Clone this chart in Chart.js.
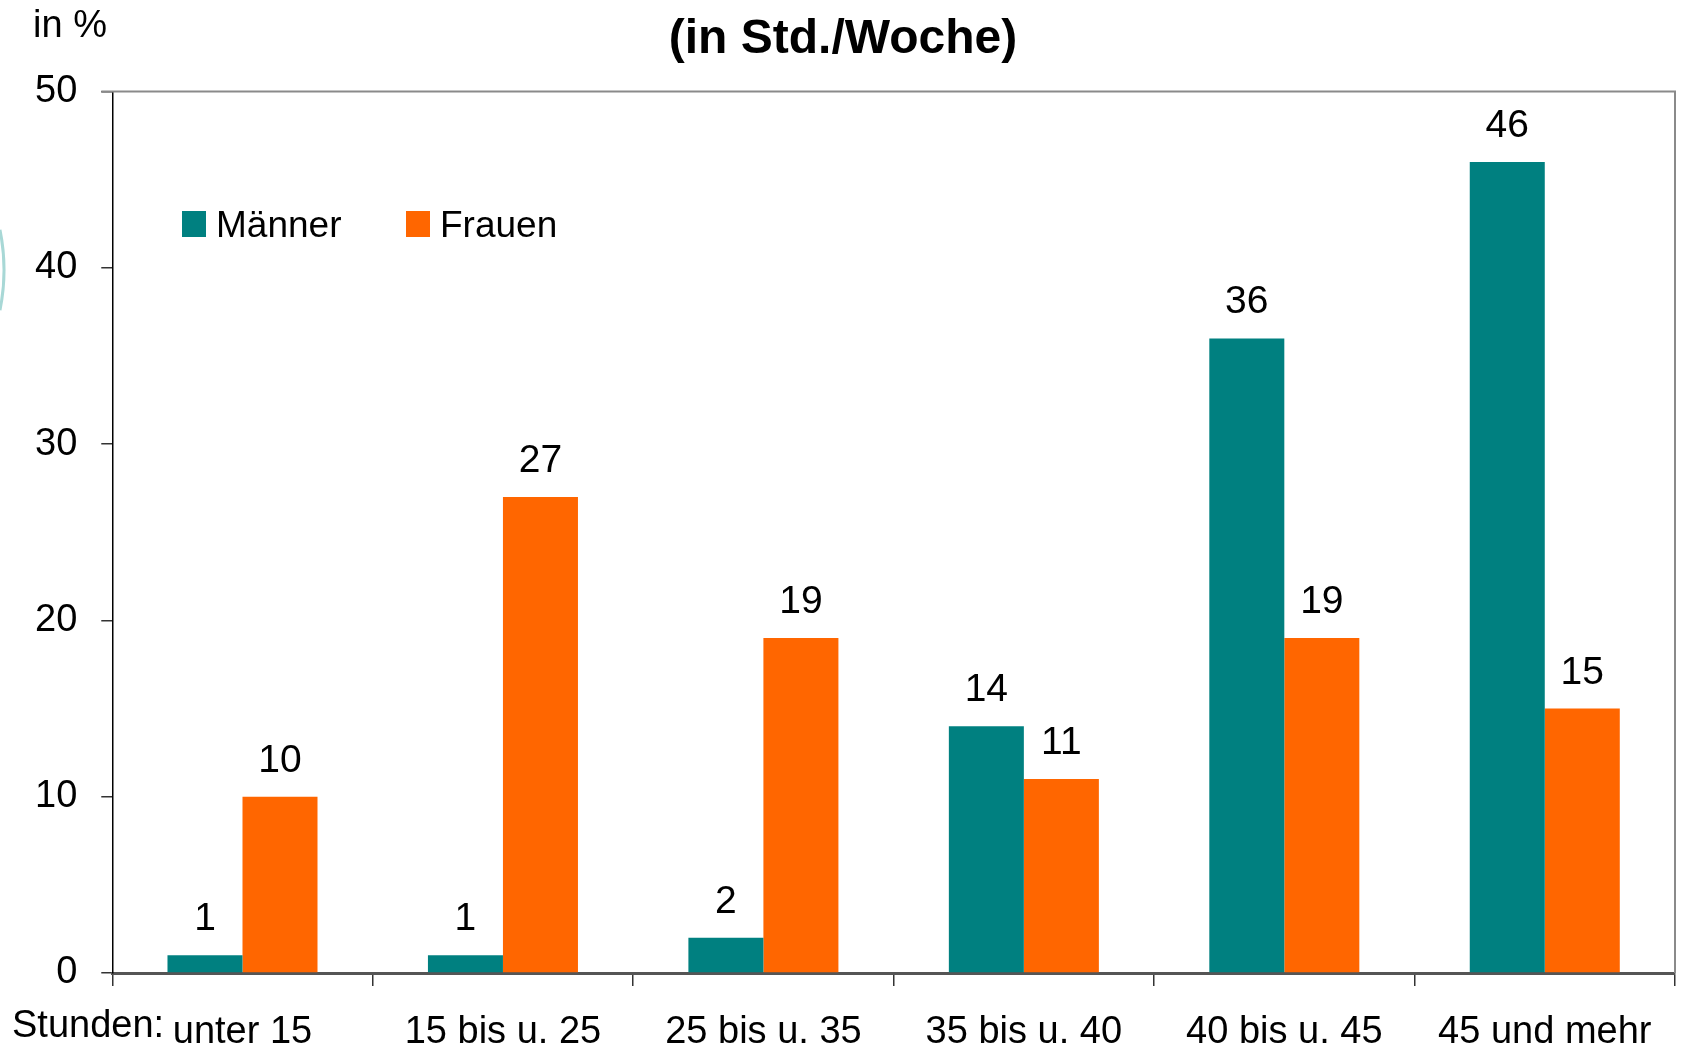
<!DOCTYPE html>
<html lang="de">
<head>
<meta charset="UTF-8">
<title>Arbeitszeit</title>
<script src="https://cdn.jsdelivr.net/npm/chart.js@4.4.1/dist/chart.umd.min.js"></script>
<style>
    html, body { margin: 0; padding: 0; background: #fff; }
    #wrap { width: 1681px; height: 1056px; }
</style>
</head>
<body>
<div id="wrap"><canvas id="myChart" width="1681" height="1056"></canvas></div>
<script>
    // Daten
    const stunden = ['unter 15', '15 bis u. 25', '25 bis u. 35', '35 bis u. 40', '40 bis u. 45', '45 und mehr']
    const maenner = [1, 1, 2, 14, 36, 46]
    const frauen = [10, 27, 19, 11, 19, 15]
    const yTicks = [0, 10, 20, 30, 40, 50]

    const FONT = "'Liberation Sans', Arial, sans-serif"

    // Beschriftungen, Legende, Rahmen
    const extras = {
        id: 'extras',
        afterDraw(chart) {
            const ctx = chart.ctx
            const area = chart.chartArea
            ctx.save()

            // grauer Rahmen oben und rechts
            ctx.strokeStyle = '#8a8a8a'
            ctx.lineWidth = 2
            ctx.beginPath()
            ctx.moveTo(area.left - 11, area.top)
            ctx.lineTo(area.right, area.top)
            ctx.lineTo(area.right, area.bottom)
            ctx.stroke()

            // Werte über den Balken
            ctx.fillStyle = '#000'
            ctx.font = '39px ' + FONT
            ctx.textAlign = 'center'
            ctx.textBaseline = 'alphabetic'
            chart.data.datasets.forEach((ds, i) => {
                chart.getDatasetMeta(i).data.forEach((bar, j) => {
                    ctx.fillText(String(ds.data[j]), bar.x, bar.y - 25)
                })
            })

            // Legende
            ctx.font = '37px ' + FONT
            ctx.textAlign = 'left'
            const legX = [182, 406]
            chart.data.datasets.forEach((ds, i) => {
                ctx.fillStyle = ds.backgroundColor
                ctx.fillRect(legX[i], 211, 24, 26)
                ctx.fillStyle = '#000'
                ctx.fillText(ds.label, legX[i] + 34, 237)
            })

            // Achsentexte
            ctx.font = '38px ' + FONT
            ctx.fillText('in %', 33, 37)
            ctx.fillText('Stunden:', 12, 1037)

            // Bogen am linken Rand
            ctx.strokeStyle = '#a8d8d6'
            ctx.lineWidth = 3
            ctx.beginPath()
            ctx.arc(-198, 270, 202, -0.2, 0.2)
            ctx.stroke()

            ctx.restore()
        }
    }

    const ctx = document.getElementById('myChart').getContext('2d')
    const myChart = new Chart(ctx, {
        type: 'bar',
        data: {
            labels: stunden,
            datasets: [{
                label: 'Männer',
                data: maenner,
                backgroundColor: '#008080',
                borderWidth: 0,
                categoryPercentage: 0.576,
                barPercentage: 1
            }, {
                label: 'Frauen',
                data: frauen,
                backgroundColor: '#ff6600',
                borderWidth: 0,
                categoryPercentage: 0.576,
                barPercentage: 1
            }]
        },
        options: {
            responsive: false,
            animation: false,
            layout: {
                padding: { left: 11, right: 6, top: 0, bottom: 0 }
            },
            plugins: {
                legend: { display: false },
                tooltip: { enabled: false },
                title: {
                    display: true,
                    text: '(in Std./Woche)',
                    color: '#000',
                    font: { family: FONT, size: 48, weight: 'bold' },
                    padding: { top: 11, bottom: 23 }
                }
            },
            scales: {
                x: {
                    afterFit(scale) {
                        scale.height = 83
                    },
                    grid: {
                        display: true,
                        drawOnChartArea: false,
                        drawTicks: true,
                        tickLength: 13,
                        color: '#333',
                        lineWidth: 1.5
                    },
                    border: { display: true, color: '#555', width: 3 },
                    ticks: {
                        color: '#000',
                        padding: 24,
                        maxRotation: 0,
                        font: { family: FONT, size: 38 }
                    }
                },
                y: {
                    min: 0,
                    max: 50,
                    afterBuildTicks(scale) {
                        scale.ticks = yTicks.map(v => ({ value: v }))
                    },
                    grid: {
                        display: true,
                        drawOnChartArea: false,
                        drawTicks: true,
                        tickLength: 11,
                        color: '#333',
                        lineWidth: 1.5
                    },
                    border: { display: true, color: '#000', width: 1.5 },
                    ticks: {
                        color: '#000',
                        padding: 24,
                        font: { family: FONT, size: 38 }
                    }
                }
            }
        },
        plugins: [extras]
    })
</script>
</body>
</html>
